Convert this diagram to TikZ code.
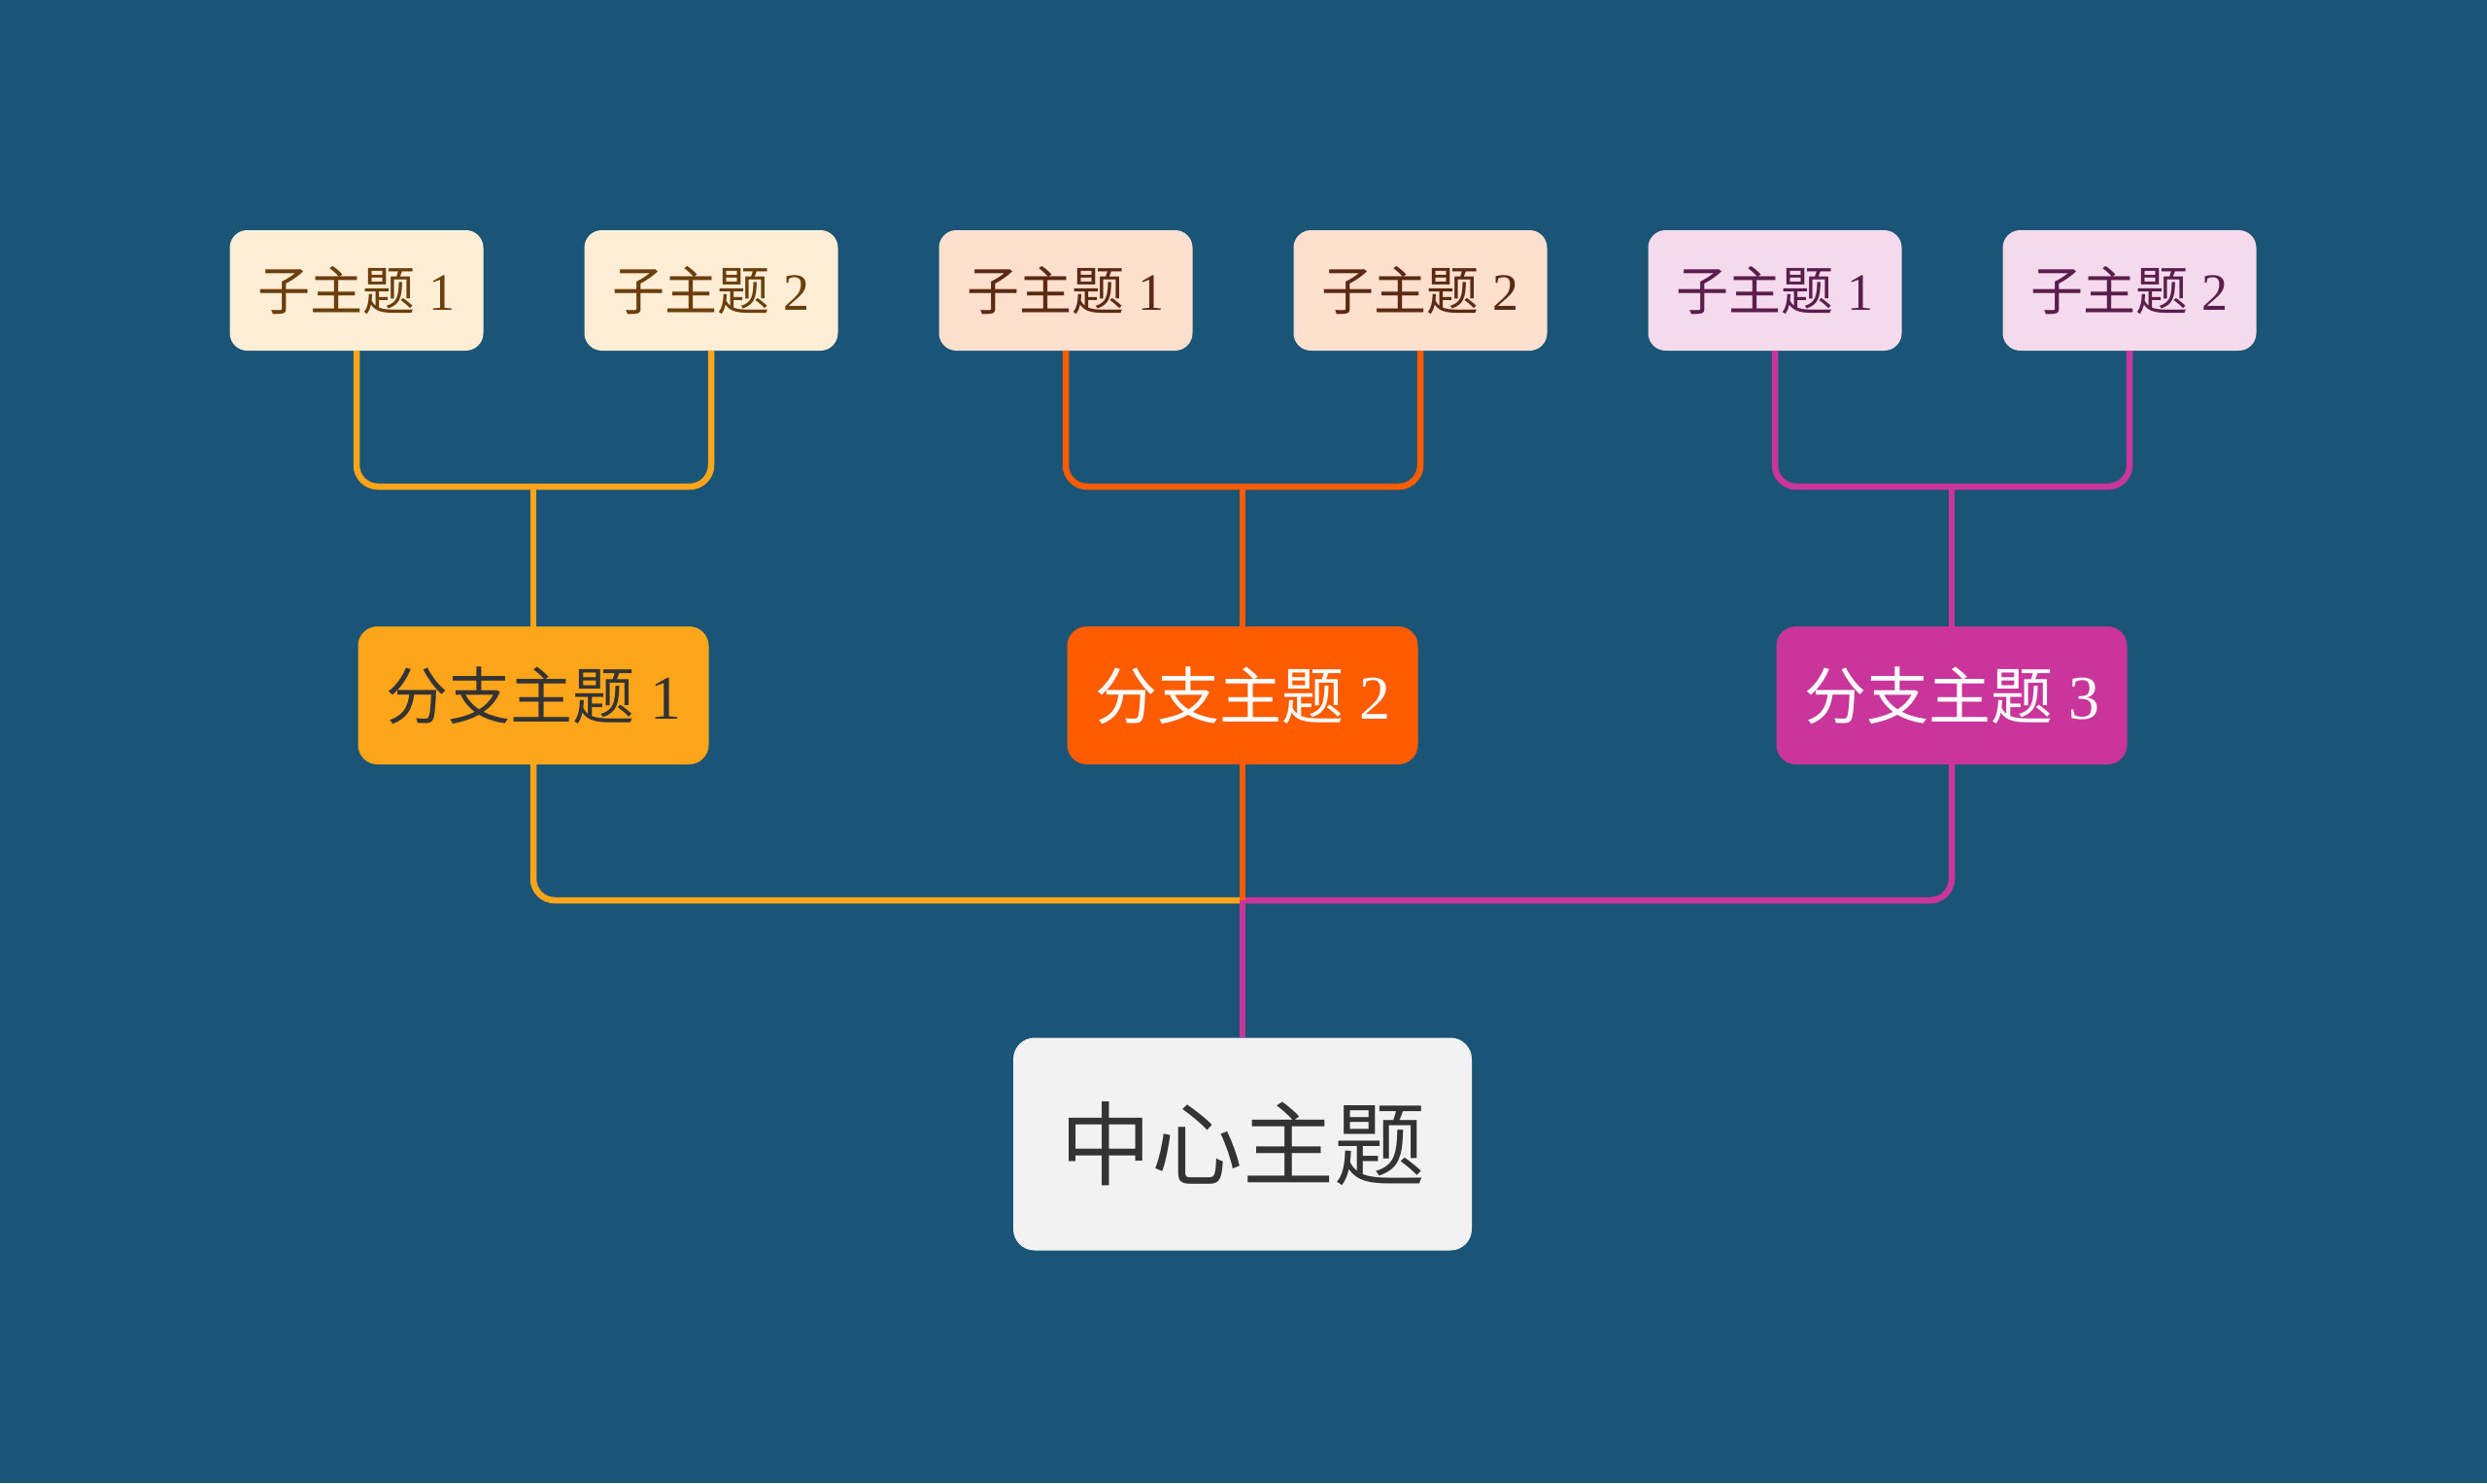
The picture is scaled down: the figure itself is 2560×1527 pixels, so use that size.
\documentclass[tikz,border=0pt]{standalone}
\usepackage{fontspec}
\setmainfont{Liberation Serif}
\newfontfamily\cjk{Noto Sans CJK SC}
\definecolor{bg}{HTML}{1A5477}
\definecolor{corange}{HTML}{FFA51A}
\definecolor{cred}{HTML}{FF5C00}
\definecolor{cmag}{HTML}{C9359A}
\definecolor{sfa}{HTML}{FFEED5}
\definecolor{sfb}{HTML}{FFE0CE}
\definecolor{sfc}{HTML}{F5D9EC}
\definecolor{sta}{HTML}{6B3E0B}
\definecolor{stb}{HTML}{5C2A12}
\definecolor{stc}{HTML}{5A1D4C}
\definecolor{ctrfill}{HTML}{F2F2F2}
\definecolor{darktext}{HTML}{333333}
\tikzset{
  subbox/.style={rounded corners=18pt, minimum width=261pt, minimum height=124pt, inner sep=0pt, font=\fontsize{54}{60}\selectfont},
  branchbox/.style={rounded corners=20pt, minimum width=361pt, minimum height=142pt, inner sep=0pt, font=\fontsize{64}{70}\selectfont},
  ctrbox/.style={rounded corners=22pt, fill=ctrfill, text=darktext, minimum width=472pt, minimum height=219pt, inner sep=0pt, font=\cjk\fontsize{94}{100}\selectfont},
  conn/.style={line width=6.5pt, rounded corners=22pt},
}
\begin{document}
\begin{tikzpicture}[x=1pt,y=-1pt]
\fill[bg] (0,0) rectangle (2560,1527);
\useasboundingbox (0,0) rectangle (2560,1527);
% sub topics
\node[subbox, fill=sfa, text=sta] (s11) at (367,299) {{\cjk 子主题} 1};
\node[subbox, fill=sfa, text=sta] (s12) at (732,299) {{\cjk 子主题} 2};
\node[subbox, fill=sfb, text=stb] (s21) at (1097,299) {{\cjk 子主题} 1};
\node[subbox, fill=sfb, text=stb] (s22) at (1462,299) {{\cjk 子主题} 2};
\node[subbox, fill=sfc, text=stc] (s31) at (1827,299) {{\cjk 子主题} 1};
\node[subbox, fill=sfc, text=stc] (s32) at (2192,299) {{\cjk 子主题} 2};
% branches
\node[branchbox, fill=corange, text=darktext] (b1) at (549,716) {{\cjk 分支主题} 1};
\node[branchbox, fill=cred, text=white] (b2) at (1279,716) {{\cjk 分支主题} 2};
\node[branchbox, fill=cmag, text=white] (b3) at (2009,716) {{\cjk 分支主题} 3};
% center
\node[ctrbox] (ctr) at (1279,1178) {中心主题};
% junctions
\coordinate (j1) at (549,501);
\coordinate (j2) at (1279,501);
\coordinate (j3) at (2009,501);
\coordinate (c0) at (1279,927);
% connectors
\draw[conn, corange] (s11.south) |- (j1) -| (s12.south);
\draw[conn, corange] (j1) -- (b1.north);
\draw[conn, cred] (s21.south) |- (j2) -| (s22.south);
\draw[conn, cred] (j2) -- (b2.north);
\draw[conn, cmag] (s31.south) |- (j3) -| (s32.south);
\draw[conn, cmag] (j3) -- (b3.north);
\draw[conn, corange] (b1.south) |- (c0);
\draw[conn, cmag] (b3.south) |- (c0);
\draw[conn, cred] (b2.south) -- (c0);
\draw[conn, cmag] (c0) -- (ctr.north);
\end{tikzpicture}
\end{document}
